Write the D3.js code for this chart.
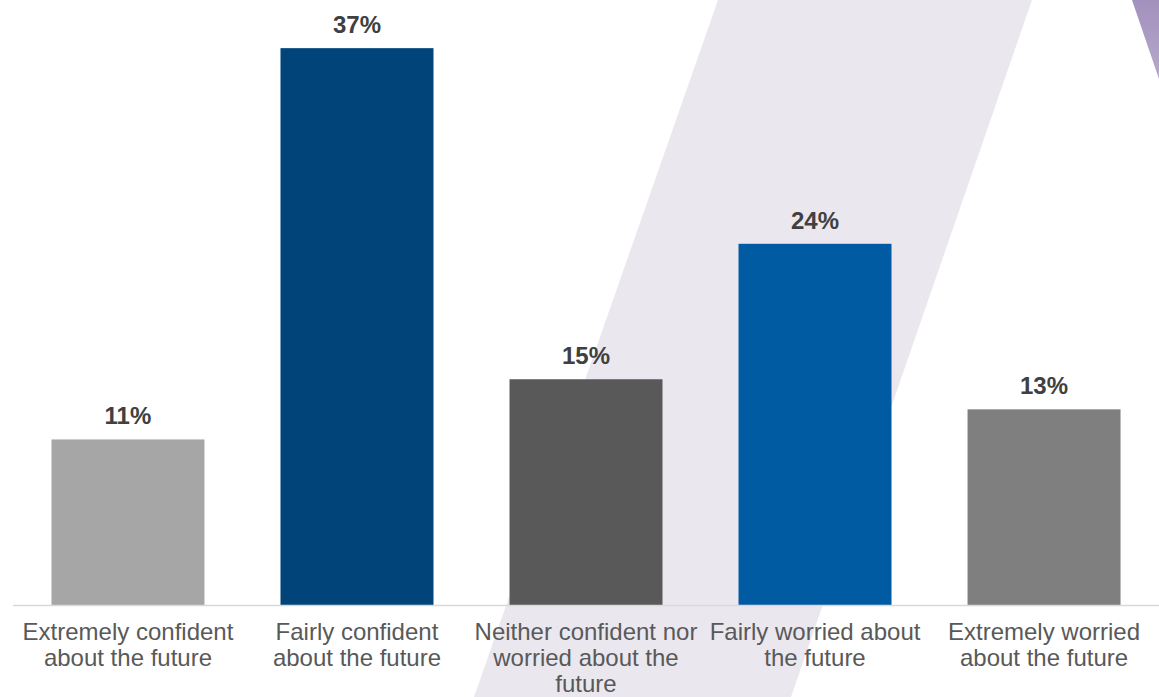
<!DOCTYPE html>
<html>
<head>
<meta charset="utf-8">
<script src="https://cdn.jsdelivr.net/npm/d3@7"></script>
<style>
  html, body { margin: 0; padding: 0; background: #ffffff; }
  svg { display: block; }
</style>
</head>
<body>
<div id="chart"></div>
<script>
// Survey: how people feel about the future (share of respondents, %)
const categories = [
  "Extremely confident about the future",
  "Fairly confident about the future",
  "Neither confident nor worried about the future",
  "Fairly worried about the future",
  "Extremely worried about the future"
];
const categoryLines = [
  ["Extremely confident", "about the future"],
  ["Fairly confident", "about the future"],
  ["Neither confident nor", "worried about the", "future"],
  ["Fairly worried about", "the future"],
  ["Extremely worried", "about the future"]
];
const values = [11, 37, 15, 24, 13];
const barColors = ["#a6a6a6", "#00447a", "#595959", "#005ba3", "#7f7f7f"];

const W = 1159, H = 697;
const baseline = 605;

const svg = d3.select("#chart").append("svg")
  .attr("width", W).attr("height", H);

// Decorative backdrop: slanted lavender band and purple corner stroke
const defs = svg.append("defs");
const grad = defs.append("linearGradient")
  .attr("id", "cornerGrad").attr("x1", 0).attr("y1", 0).attr("x2", 0).attr("y2", 1);
grad.append("stop").attr("offset", "0%").attr("stop-color", "#a391bd");
grad.append("stop").attr("offset", "100%").attr("stop-color", "#b5a8ca");

svg.append("path")
  .attr("d", "M718,0 L1032,0 L791,697 L474,697 Z")
  .attr("fill", "#ebe7ee");
svg.append("path")
  .attr("d", "M1132,0 L1159,0 L1159,79 Z")
  .attr("fill", "url(#cornerGrad)");

const x = d3.scaleBand()
  .domain(categories)
  .range([13, 1159])
  .paddingInner(0.332)
  .paddingOuter(0.168);

const y = d3.scaleLinear()
  .domain([0, 40])
  .range([baseline, baseline - 40 * 15.05]);

// Bars
svg.append("g").selectAll("rect")
  .data(values)
  .join("rect")
  .attr("x", (d, i) => x(categories[i]))
  .attr("y", d => y(d))
  .attr("width", x.bandwidth())
  .attr("height", d => y(0) - y(d))
  .attr("fill", (d, i) => barColors[i]);

// Baseline axis
const axis = svg.append("g")
  .attr("transform", `translate(0,${baseline + 0.5})`)
  .call(d3.axisBottom(x).tickSize(0).tickFormat(""));
axis.select(".domain")
  .attr("d", `M13,0H${W}`)
  .attr("stroke", "#d9d9d9")
  .attr("stroke-width", 1.6);

// Value labels
svg.append("g").selectAll("text")
  .data(values)
  .join("text")
  .attr("x", (d, i) => x(categories[i]) + x.bandwidth() / 2)
  .attr("y", d => y(d) - 15)
  .attr("text-anchor", "middle")
  .attr("font-family", "Arial, 'Liberation Sans', sans-serif")
  .attr("font-weight", "bold")
  .attr("font-size", 24)
  .attr("fill", "#404040")
  .text(d => d + "%");

// Category labels
const cat = svg.append("g").selectAll("text")
  .data(categories)
  .join("text")
  .attr("text-anchor", "middle")
  .attr("font-family", "Arial, 'Liberation Sans', sans-serif")
  .attr("font-size", 24)
  .attr("fill", "#595959");
cat.each(function(c, i) {
  const cx = x(c) + x.bandwidth() / 2;
  d3.select(this).selectAll("tspan")
    .data(categoryLines[i])
    .join("tspan")
    .attr("x", cx)
    .attr("y", (l, j) => 640 + j * 26)
    .text(l => l);
});
</script>
</body>
</html>
